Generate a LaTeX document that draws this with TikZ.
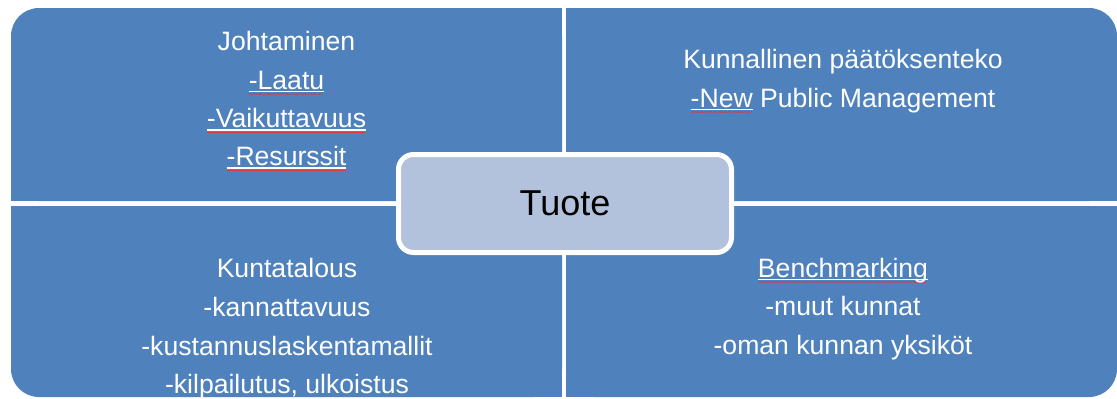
\documentclass[tikz,border=0pt]{standalone}
\usepackage{fontspec}
\setmainfont{Liberation Sans}
\definecolor{quadblue}{RGB}{79,129,189}
\definecolor{hubfill}{RGB}{179,194,220}
\definecolor{spellred}{RGB}{215,60,70}

% white underline with a red squiggle beneath it
\newcommand\spellmark[1]{%
  \setbox0=\hbox{#1}%
  \rlap{\textcolor{white}{\rule[-3pt]{\wd0}{1.3pt}}}%
  \rlap{\color{spellred}\leaders\hbox{\rule[-5.3pt]{0.9pt}{0.6pt}\rule[-4.7pt]{0.9pt}{0.6pt}}\hskip\wd0}%
  \box0\relax}

\begin{document}
\begin{tikzpicture}[x=1pt,y=-1pt,
  quad/.style={fill=quadblue},
  qtext/.style={text=white,font=\fontsize{26.6}{32}\selectfont,anchor=base,inner sep=0pt},
  hub/.style={draw=white,line width=5pt,fill=hubfill,rounded corners=15pt,
    minimum width=333pt,minimum height=98pt,inner sep=0pt,
    font=\fontsize{36}{40}\selectfont,text=black}]
\useasboundingbox (0,0) rectangle (1117,399);

% four quadrants, only the outer corners rounded
\fill[quad,rounded corners=28pt] (11,8) rectangle (562,201);
\fill[quad] (80,8) rectangle (562,201);
\fill[quad] (11,80) rectangle (562,201);

\fill[quad,rounded corners=28pt] (566,8) rectangle (1117,201);
\fill[quad] (566,8) rectangle (1050,201);
\fill[quad] (566,80) rectangle (1117,201);

\fill[quad,rounded corners=28pt] (11,206) rectangle (562,397);
\fill[quad] (80,206) rectangle (562,397);
\fill[quad] (11,206) rectangle (562,330);

\fill[quad,rounded corners=28pt] (566,206) rectangle (1117,397);
\fill[quad] (566,206) rectangle (1050,397);
\fill[quad] (566,206) rectangle (1117,330);

% top left
\node[qtext] (tl1) at (286.5,50) {Johtaminen};
\node[qtext] (tl2) at (286.5,89.3) {\spellmark{-Laatu}};
\node[qtext] (tl3) at (286.5,127.7) {\spellmark{-Vaikuttavuus}};
\node[qtext] (tl4) at (286.5,165.7) {\spellmark{-Resurssit}};

% top right
\node[qtext] (tr1) at (843,68.3) {Kunnallinen päätöksenteko};
\node[qtext] (tr2) at (843,107) {\spellmark{-New} Public Management};

% bottom left
\node[qtext] (bl1) at (287,277.7) {Kuntatalous};
\node[qtext] (bl2) at (287,316) {-kannattavuus};
\node[qtext] (bl3) at (287,355) {-kustannuslaskentamallit};
\node[qtext] (bl4) at (287,393.3) {-kilpailutus, ulkoistus};

% bottom right
\node[qtext] (br1) at (843,277.3) {\spellmark{Benchmarking}};
\node[qtext] (br2) at (843,315.7) {-muut kunnat};
\node[qtext] (br3) at (843,354) {-oman kunnan yksiköt};

% centre
\node[hub] (tuote) at (565,203.5) {Tuote};
\end{tikzpicture}
\end{document}
